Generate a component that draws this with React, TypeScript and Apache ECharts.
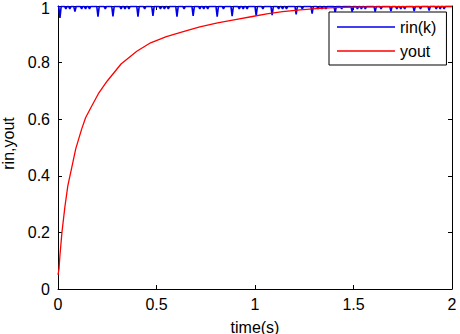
import React, { useEffect, useRef } from "react";
import * as echarts from "echarts";

// yout: [time, value]
const youtT = [0, 0.005, 0.01, 0.02, 0.035, 0.05, 0.07, 0.09, 0.12, 0.14, 0.17, 0.205, 0.25, 0.32, 0.4, 0.47, 0.55, 0.64, 0.72, 0.81, 0.9, 0.98, 1.06, 1.14, 1.23, 1.31, 1.4, 1.5, 1.6, 1.7, 1.8, 1.9, 2.0];
const youtV = [0.05, 0.07, 0.12, 0.2, 0.29, 0.365, 0.43, 0.495, 0.565, 0.605, 0.645, 0.69, 0.735, 0.795, 0.84, 0.87, 0.892, 0.91, 0.926, 0.94, 0.952, 0.962, 0.972, 0.98, 0.986, 0.991, 0.994, 0.996, 0.997, 0.998, 0.998, 0.999, 0.999];

// rin(k): sits at ~1 with downward dips
const rinBase = 0.998;
const majorDipT = [0.01, 0.086, 0.203, 0.279, 0.406, 0.482, 0.604, 0.686, 0.808, 0.884, 1.006, 1.087, 1.209, 1.29, 1.407, 1.493, 1.61, 1.69, 1.808, 1.884];
const majorDipV = [0.958, 0.98, 0.962, 0.963, 0.962, 0.965, 0.962, 0.965, 0.962, 0.964, 0.966, 0.968, 0.97, 0.973, 0.978, 0.98, 0.98, 0.982, 0.982, 0.984];
const minorDipT = [0.04, 0.06, 0.12, 0.14, 0.16, 0.24, 0.32, 0.34, 0.36, 0.44, 0.52, 0.54, 0.56, 0.64, 0.72, 0.74, 0.76, 0.84, 0.92, 0.94, 0.96, 1.04, 1.12, 1.14, 1.16, 1.24, 1.32, 1.34, 1.36, 1.44, 1.52, 1.54, 1.56, 1.64, 1.72, 1.74, 1.76, 1.84, 1.92, 1.94, 1.96];
const minorDipV = 0.99;

const xTicks = [0, 0.5, 1, 1.5, 2];
const yTicks = [0, 0.2, 0.4, 0.6, 0.8, 1];

const FONT = '"Liberation Sans", Arial, sans-serif';

function buildRin(): number[][] {
  const dips: number[][] = [];
  majorDipT.forEach((t, i) => dips.push([t, majorDipV[i]]));
  minorDipT.forEach((t) => dips.push([t, minorDipV]));
  dips.sort((a, b) => a[0] - b[0]);
  const w = 0.006;
  const pts: number[][] = [[0, rinBase]];
  dips.forEach(([t, v]) => {
    pts.push([Math.max(0, t - w), rinBase]);
    pts.push([t, v]);
    pts.push([t + w, rinBase]);
  });
  pts.push([2, rinBase]);
  return pts;
}

export default function App() {
  const ref = useRef<HTMLDivElement>(null);
  useEffect(() => {
    if (!ref.current) return;
    const chart = echarts.init(ref.current, undefined, { renderer: "svg" });
    const youtData = youtT.map((t, i) => [t, youtV[i]]);
    const axisCommon = {
      axisLine: { show: true, onZero: false, lineStyle: { color: "#000", width: 1 } },
      axisTick: { show: true, inside: true, length: 4, lineStyle: { color: "#000" } },
      splitLine: { show: false },
    };
    chart.setOption({
      animation: false,
      backgroundColor: "#fff",
      textStyle: { fontFamily: FONT },
      grid: { left: 58, right: 8, top: 6, bottom: 45, containLabel: false, outerBoundsMode: "none" },
      graphic: [
        {
          type: "text",
          right: 460 - 50,
          top: 0,
          style: {
            text: String(yTicks[yTicks.length - 1]),
            fill: "#000",
            font: `16px ${FONT}`,
            textAlign: "right",
            textVerticalAlign: "top",
          },
        },
      ],
      xAxis: [
        {
          type: "value",
          min: xTicks[0],
          max: xTicks[xTicks.length - 1],
          interval: 0.5,
          position: "bottom",
          ...axisCommon,
          axisLabel: { show: true, color: "#000", fontSize: 16, fontFamily: FONT, margin: 7, formatter: (v: number) => String(v) },
          name: "time(s)",
          nameLocation: "middle",
          nameGap: 30,
          nameTextStyle: { color: "#000", fontSize: 16, fontFamily: FONT },
        },
        {
          type: "value",
          min: xTicks[0],
          max: xTicks[xTicks.length - 1],
          interval: 0.5,
          position: "top",
          ...axisCommon,
          axisLabel: { show: false },
        },
      ],
      yAxis: [
        {
          type: "value",
          min: yTicks[0],
          max: yTicks[yTicks.length - 1],
          interval: 0.2,
          position: "left",
          ...axisCommon,
          axisLabel: { show: true, showMaxLabel: false, color: "#000", fontSize: 16, fontFamily: FONT, margin: 8, formatter: (v: number) => String(Math.round(v * 10) / 10) },
          name: "rin,yout",
          nameLocation: "middle",
          nameGap: 40,
          nameTextStyle: { color: "#000", fontSize: 16, fontFamily: FONT, padding: [0, 0, 0, 8] },
        },
        {
          type: "value",
          min: yTicks[0],
          max: yTicks[yTicks.length - 1],
          interval: 0.2,
          position: "right",
          ...axisCommon,
          axisLabel: { show: false },
        },
      ],
      legend: {
        orient: "vertical",
        left: 329,
        top: 12,
        backgroundColor: "#fff",
        borderColor: "#000",
        borderWidth: 1,
        borderRadius: 0,
        padding: [7, 10, 6, 8],
        itemWidth: 58,
        itemHeight: 1.5,
        itemGap: 8,
        icon: "rect",
        textStyle: { color: "#000", fontSize: 16, fontFamily: FONT },
        data: ["rin(k)", "yout"],
      },
      series: [
        {
          name: "rin(k)",
          type: "line",
          xAxisIndex: 0,
          yAxisIndex: 0,
          data: buildRin(),
          showSymbol: false,
          symbol: "none",
          lineStyle: { color: "#0000ee", width: 1.6 },
          itemStyle: { color: "#0000ee" },
          clip: true,
          z: 2,
        },
        {
          name: "yout",
          type: "line",
          xAxisIndex: 0,
          yAxisIndex: 0,
          data: youtData,
          showSymbol: false,
          symbol: "none",
          smooth: false,
          lineStyle: { color: "#ff0000", width: 1.3 },
          itemStyle: { color: "#ff0000" },
          clip: true,
          z: 3,
        },
      ],
    });
    return () => chart.dispose();
  }, []);
  return (
    <div
      ref={ref}
      style={{ position: "fixed", left: 0, top: 0, width: 460, height: 334, background: "#fff" }}
    />
  );
}
